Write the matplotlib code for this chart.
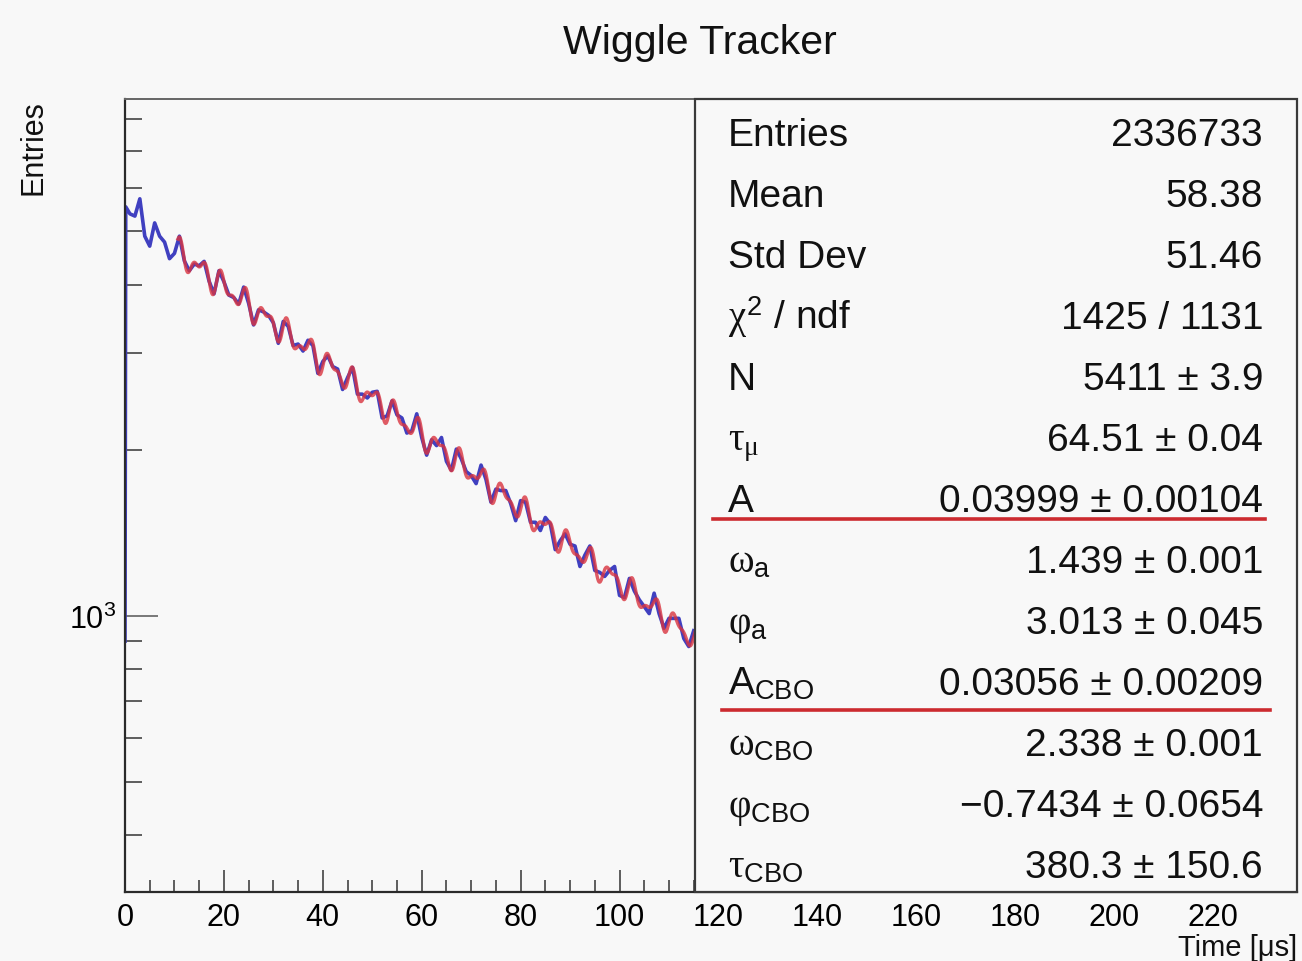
import numpy as np
import matplotlib.pyplot as plt
from matplotlib import ticker
from matplotlib.patches import Rectangle

plt.rcParams['font.family'] = ['Liberation Sans', 'DejaVu Sans']
plt.rcParams['mathtext.fontset'] = 'custom'
plt.rcParams['mathtext.rm'] = 'Liberation Sans'
plt.rcParams['mathtext.it'] = 'Liberation Serif'
plt.rcParams['mathtext.bf'] = 'Liberation Sans:bold'

# histogram contents (entries per bin) vs time in us
hist_t = np.r_[0.0, 0.15, np.arange(1, 116)]
hist_counts = [
    900, 5540, 5380, 5330, 5730, 4900, 4700, 5180, 4900, 4780, 4460,
    4560, 4900, 4420, 4240, 4360, 4330, 4410, 4060, 3850, 4240,
    4050, 3830, 3790, 3690, 3960, 3700, 3380, 3600, 3570, 3520,
    3410, 3130, 3430, 3360, 3100, 3120, 3030, 3170, 3100, 2760,
    2900, 2970, 2840, 2810, 2580, 2710, 2830, 2530, 2530, 2490,
    2550, 2560, 2290, 2310, 2460, 2320, 2290, 2150, 2170, 2330,
    2110, 1960, 2090, 2040, 2110, 1910, 1840, 2010, 1930, 1830,
    1800, 1740, 1880, 1770, 1610, 1700, 1690, 1690, 1600, 1490,
    1620, 1610, 1480, 1480, 1430, 1510, 1470, 1320, 1370, 1410,
    1350, 1340, 1230, 1290, 1340, 1210, 1200, 1180, 1210, 1230,
    1090, 1080, 1170, 1110, 1070, 1040, 1010, 1100, 1010, 950,
    990, 990, 990, 910, 880, 940,
]

# fit result (9-parameter wiggle with CBO term)
par_labels = ['N', r'$\tau_{\mu}$', 'A', r'$\omega_{\mathrm{a}}$', r'$\varphi_{\mathrm{a}}$',
              r'$\mathrm{A}_{\mathrm{CBO}}$', r'$\omega_{\mathrm{CBO}}$',
              r'$\varphi_{\mathrm{CBO}}$', r'$\tau_{\mathrm{CBO}}$']
par_values = ['5411', '64.51', '0.03999', '1.439', '3.013', '0.03056', '2.338', '-0.7434', '380.3']
par_errors = ['3.9', '0.04', '0.00104', '0.001', '0.045', '0.00209', '0.001', '0.0654', '150.6']
fit_start = 10.7

stat_labels = ['Entries', 'Mean', 'Std Dev', r'$\chi^{2}$ / ndf']
stat_values = ['2336733', '58.38', '51.46', '1425 / 1131']

x_max = 237.0
y_min, y_max = 315, 8700


def wiggle(t, p):
    n, tau, a, wa, pa, acbo, wcbo, pcbo, tcbo = p
    return (n * np.exp(-t / tau) * (1 + a * np.cos(wa * t + pa))
            * (1 + acbo * np.exp(-t / tcbo) * np.cos(wcbo * t + pcbo)))


bg = '#f8f8f8'
fig = plt.figure(figsize=(13.02, 9.62), dpi=100, facecolor=bg)
ax = fig.add_axes([125 / 1302, 1 - 893 / 962, 1172 / 1302, 793 / 962], facecolor=bg)

ax.plot(hist_t, hist_counts, color='#4040c0', lw=2.6, zorder=2)
p = [float(v) for v in par_values]
t_fit = np.linspace(fit_start, x_max, 3000)
ax.plot(t_fit, wiggle(t_fit, p), color='#d9343f', lw=2.4, alpha=0.8, zorder=3)

ax.set_yscale('log')
ax.set_xlim(0, x_max)
ax.set_ylim(y_min, y_max)
ax.xaxis.set_major_locator(ticker.FixedLocator(np.arange(0, 221, 20)))
ax.xaxis.set_minor_locator(ticker.MultipleLocator(5))
ax.yaxis.set_major_locator(ticker.LogLocator(base=10))
ax.yaxis.set_minor_locator(ticker.LogLocator(base=10, subs=np.arange(2, 10)))
ax.yaxis.set_minor_formatter(ticker.NullFormatter())

ax.tick_params(axis='both', which='both', direction='in', top=False, right=False,
               color='#333333', width=1.1)
ax.tick_params(axis='x', which='major', length=16, labelsize=22, pad=7)
ax.tick_params(axis='x', which='minor', length=8.5)
ax.tick_params(axis='y', which='major', length=24, labelsize=22, pad=6, color='#555555')
ax.tick_params(axis='y', which='minor', length=12)

for side in ['left', 'bottom']:
    ax.spines[side].set_color('#2a2a2a')
    ax.spines[side].set_linewidth(1.6)
ax.spines['top'].set_color('#666666')
ax.spines['top'].set_linewidth(1.4)
ax.spines['right'].set_visible(False)

# statistics box
box_x0 = (695 - 125) / 1172
ax.add_patch(Rectangle((box_x0, 0), 1 - box_x0, 1, transform=ax.transAxes,
                       facecolor=bg, edgecolor='#3a3a3a', lw=1.6, zorder=5, clip_on=False))

rows = stat_labels + par_labels
vals = stat_values + [f'{v.replace("-", "\u2212")} \u00b1 {e}' for v, e in zip(par_values, par_errors)]
n_rows = len(rows)
for i, (lab, val) in enumerate(zip(rows, vals)):
    yb = 1 - (i + 0.75) / n_rows
    ax.text(0.5145, yb, lab, transform=ax.transAxes, fontsize=28, va='baseline',
            ha='left', color='#111111', zorder=6)
    ax.text(0.971, yb, val, transform=ax.transAxes, fontsize=28, va='baseline',
            ha='right', color='#111111', zorder=6)

# underline A and A_CBO rows
for row, x0, x1 in [(6, 0.5017, 0.9727), (9, 0.5094, 0.977)]:
    yl = 1 - (row + 1) / n_rows + (0.009 if row == 6 else -0.001)
    ax.plot([x0, x1], [yl, yl], transform=ax.transAxes, color='#cc2a2f',
            lw=2.6, zorder=6, clip_on=False)

fig.text(700 / 1302, 1 - 43 / 962, 'Wiggle Tracker', fontsize=29.5, ha='center', va='center',
         color='#111111')
fig.text(1297 / 1302, 1 - 948 / 962, 'Time [\u03bcs]', fontsize=21, ha='right', va='center',
         color='#111111')
fig.text(33 / 1302, 1 - 100 / 962, 'Entries', fontsize=22, rotation=90, ha='center', va='top',
         color='#111111')

fig.savefig('out.png', dpi=100, facecolor=bg)
